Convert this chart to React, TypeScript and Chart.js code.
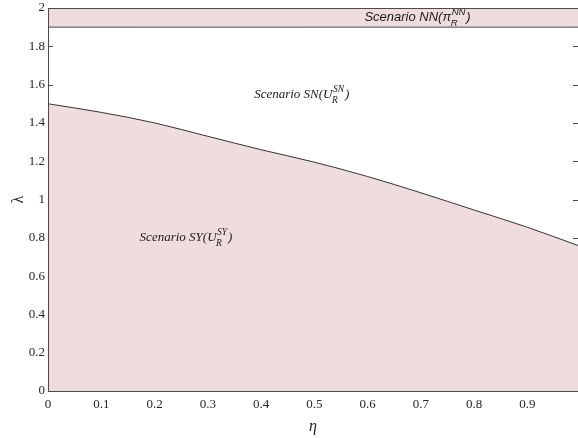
import React, { useEffect, useRef } from 'react';
import { Chart, registerables } from 'chart.js';

Chart.register(...registerables);

// ---- data ----
const etaValues = [0, 0.1, 0.2, 0.3, 0.4, 0.5, 0.6, 0.7, 0.8, 0.9, 0.995];
const lambdaValues = [1.5, 1.455, 1.4, 1.33, 1.26, 1.195, 1.12, 1.035, 0.945, 0.855, 0.76];
const bandEta = [0, 0.995];
const bandLambda = [1.9, 1.9];
const xTickValues = [0, 0.1, 0.2, 0.3, 0.4, 0.5, 0.6, 0.7, 0.8, 0.9];
const yTickValues = [0, 0.2, 0.4, 0.6, 0.8, 1, 1.2, 1.4, 1.6, 1.8, 2];
const xRange = [0, 0.995];
const yRange = [0, 2];
const xTitle = 'η';
const yTitle = 'λ';

const SERIF = '"Liberation Serif", "Times New Roman", serif';
const SANS = '"Liberation Sans", Arial, sans-serif';

const labels = [
  { eta: 0.594, lambda: 1.953, base: 'Scenario NN(π', sup: 'NN', sub: 'R', close: ')', family: SANS },
  { eta: 0.387, lambda: 1.546, base: 'Scenario SN(U', sup: 'SN', sub: 'R', close: ')', family: SERIF },
  { eta: 0.172, lambda: 0.8, base: 'Scenario SY(U', sup: 'SY', sub: 'R', close: ')', family: SERIF },
];

const FILL = 'rgb(239,221,222)';
const LINE = '#333333';
const AXIS = '#4a4a4a';

const ticksPlugin = {
  id: 'inwardTicks',
  beforeDatasetsDraw(chart: any) {
    const { ctx, chartArea, scales } = chart;
    const { left, right, top, bottom } = chartArea;
    const xs = scales.x;
    const ys = scales.y;
    ctx.save();
    ctx.strokeStyle = AXIS;
    ctx.lineWidth = 1;
    ctx.beginPath();
    ys.ticks.forEach((t: any) => {
      const py = Math.round(ys.getPixelForValue(t.value)) + 0.5;
      ctx.moveTo(left, py);
      ctx.lineTo(left + 5, py);
      ctx.moveTo(right, py);
      ctx.lineTo(right - 5, py);
    });
    xs.ticks.forEach((t: any) => {
      const px = Math.round(xs.getPixelForValue(t.value)) + 0.5;
      ctx.moveTo(px, bottom);
      ctx.lineTo(px, bottom - 5);
      ctx.moveTo(px, top);
      ctx.lineTo(px, top + 5);
    });
    ctx.stroke();
    ctx.restore();
  },
  afterDatasetsDraw(chart: any) {
    const { ctx, chartArea } = chart;
    const { left, right, top, bottom } = chartArea;
    ctx.save();
    ctx.strokeStyle = AXIS;
    ctx.lineWidth = 1;
    ctx.strokeRect(Math.round(left) + 0.5, Math.round(top) + 0.5, Math.round(right - left), Math.round(bottom - top));
    ctx.restore();
  },
  afterDraw(chart: any) {
    const { ctx, scales } = chart;
    const xs = scales.x;
    const ys = scales.y;
    ctx.save();
    ctx.fillStyle = '#1a1a1a';
    ctx.textBaseline = 'middle';
    ctx.textAlign = 'left';
    labels.forEach((l) => {
      const x0 = xs.getPixelForValue(l.eta);
      const y0 = ys.getPixelForValue(l.lambda);
      ctx.font = `italic 13px ${l.family}`;
      ctx.fillText(l.base, x0, y0);
      const w = ctx.measureText(l.base).width;
      ctx.font = `italic 9.5px ${l.family}`;
      const wSup = ctx.measureText(l.sup).width;
      const wSub = ctx.measureText(l.sub).width;
      ctx.fillText(l.sup, x0 + w + 0.5, y0 - 5);
      ctx.fillText(l.sub, x0 + w - 0.5, y0 + 6);
      ctx.font = `italic 13px ${l.family}`;
      ctx.fillText(l.close, x0 + w + Math.max(wSup, wSub) + 1.5, y0);
    });
    ctx.restore();
  },
};

function fmt(v: number) {
  return String(parseFloat(v.toFixed(2)));
}

export default function App() {
  const ref = useRef<HTMLCanvasElement | null>(null);
  useEffect(() => {
    if (!ref.current) return;
    const curve = etaValues.map((e, i) => ({ x: e, y: lambdaValues[i] }));
    const band = bandEta.map((e, i) => ({ x: e, y: bandLambda[i] }));
    const chart = new Chart(ref.current, {
      type: 'line',
      data: {
        datasets: [
          {
            data: band,
            borderColor: AXIS,
            borderWidth: 1,
            backgroundColor: FILL,
            fill: 'end',
            pointRadius: 0,
          },
          {
            data: curve,
            borderColor: LINE,
            borderWidth: 1,
            backgroundColor: FILL,
            fill: 'origin',
            pointRadius: 0,
            cubicInterpolationMode: 'monotone',
          },
        ],
      },
      options: {
        responsive: false,
        animation: false,
        devicePixelRatio: 1,
        layout: { padding: { top: 8, right: 0, left: 0, bottom: 0 } },
        plugins: { legend: { display: false }, tooltip: { enabled: false } },
        scales: {
          x: {
            type: 'linear',
            min: xRange[0],
            max: xRange[1],
            grid: { display: false, drawTicks: false },
            border: { display: false },
            afterBuildTicks: (s: any) => {
              s.ticks = xTickValues.map((v) => ({ value: v }));
            },
            afterFit: (s: any) => {
              s.height = 47;
              s.paddingLeft = 0;
              s.paddingRight = 0;
            },
            ticks: {
              padding: 6,
              color: '#262626',
              font: { family: SERIF, size: 13 },
              maxRotation: 0,
              autoSkip: false,
              callback: (v: any) => fmt(Number(v)),
            },
            title: {
              display: true,
              text: xTitle,
              color: '#262626',
              font: { family: SERIF, size: 16, style: 'italic' },
              padding: { top: 0, bottom: 2 },
            },
          },
          y: {
            type: 'linear',
            min: yRange[0],
            max: yRange[1],
            grid: { display: false, drawTicks: false },
            border: { display: false },
            afterBuildTicks: (s: any) => {
              s.ticks = yTickValues.map((v) => ({ value: v }));
            },
            afterFit: (s: any) => {
              s.width = 48;
              s.paddingTop = 0;
              s.paddingBottom = 0;
            },
            ticks: {
              padding: 3,
              color: '#262626',
              font: { family: SERIF, size: 13 },
              autoSkip: false,
              callback: (v: any) => fmt(Number(v)),
            },
            title: {
              display: true,
              text: yTitle,
              color: '#262626',
              font: { family: SERIF, size: 16 },
              padding: { top: 9, bottom: 0 },
            },
          },
        },
      },
      plugins: [ticksPlugin],
    } as any);
    return () => chart.destroy();
  }, []);
  return (
    <div style={{ position: 'absolute', left: 0, top: 0, width: 578, height: 438, background: '#fff' }}>
      <canvas ref={ref} width={578} height={438} style={{ display: 'block', width: 578, height: 438 }} />
    </div>
  );
}
